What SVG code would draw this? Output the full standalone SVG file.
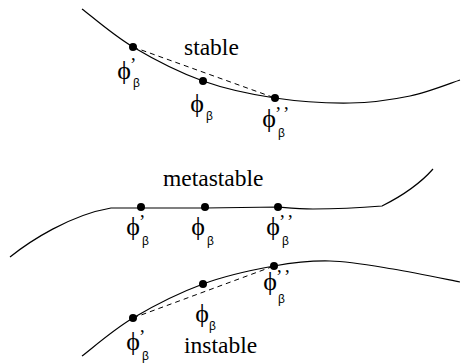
<svg xmlns="http://www.w3.org/2000/svg" width="463" height="364" viewBox="0 0 463 364">
<style>
.curve{fill:none;stroke:#000;stroke-width:1.2}
.dash{fill:none;stroke:#000;stroke-width:1;stroke-dasharray:5,4}
.dot{fill:#000}
.lbl{font-family:"Liberation Serif","Times New Roman",serif;font-size:23.5px;fill:#000}
.phi{font-family:"Liberation Serif","DejaVu Serif",serif;font-size:26px;fill:#000;text-anchor:middle}
.pr{font-family:"Liberation Serif",serif;font-size:19px;fill:#000;letter-spacing:3px}
.sub{font-family:"Liberation Sans","DejaVu Sans",sans-serif;font-size:12px;fill:#000}
</style>
<rect width="463" height="364" fill="#fff"/>
<g id="curves">
<path id="curve-stable" class="curve" d="M82,9 C90.5,15.3 112.8,35 133,47 C153.2,59 179.3,72.5 203,81 C226.7,89.5 250.5,94.3 275,98 C299.5,101.7 327.5,103.3 350,103 C372.5,102.7 391.7,99.8 410,96 C428.3,92.2 451.7,82.7 460,80"/>
<path id="curve-metastable" class="curve" d="M10,257 C30,241 70,215 111,208 L142,208 L205,208 L278,207 C290,208 300,209 313,209 C340,209 370,207 382,206 C398,198 418,186 433,169"/>
<path id="curve-instable" class="curve" d="M82,356 C90.5,349.7 112.8,330 133,318 C153.2,306 179.5,292.7 203,284 C226.5,275.3 252.8,269.8 274,266 C295.2,262.2 310.2,260.5 330,261 C349.8,261.5 371.3,265.5 393,269 C414.7,272.5 448.8,279.8 460,282"/>
</g>
<g id="connectors">
<line class="dash" x1="133" y1="47" x2="275" y2="98"/>
<line class="dash" x1="133" y1="318" x2="274" y2="266"/>
</g>
<g id="title-stable"><text class="lbl" x="184" y="55">stable</text></g>
<g id="title-metastable"><text class="lbl" x="163" y="186">metastable</text></g>
<g id="title-instable"><text class="lbl" x="184" y="353">instable</text></g>

<g id="s-phi1"><circle class="dot" cx="133" cy="47" r="4"/>
<text class="phi" x="124" y="79">ϕ</text><text class="pr" x="130" y="71">’</text><text class="sub" x="133" y="87">β</text></g>
<g id="s-phi"><circle class="dot" cx="203" cy="81" r="4"/>
<text class="phi" x="197" y="112">ϕ</text><text class="sub" x="206" y="120">β</text></g>
<g id="s-phi2"><circle class="dot" cx="275" cy="98" r="4"/>
<text class="phi" x="269" y="127">ϕ</text><text class="pr" x="275" y="120">’’</text><text class="sub" x="278" y="137">β</text></g>

<g id="m-phi1"><circle class="dot" cx="141" cy="207" r="4"/>
<text class="phi" x="133" y="235">ϕ</text><text class="pr" x="139" y="228">’</text><text class="sub" x="142" y="245">β</text></g>
<g id="m-phi"><circle class="dot" cx="205" cy="207" r="4"/>
<text class="phi" x="198" y="235">ϕ</text><text class="sub" x="207" y="245">β</text></g>
<g id="m-phi2"><circle class="dot" cx="278" cy="207" r="4"/>
<text class="phi" x="273" y="235">ϕ</text><text class="pr" x="279" y="228">’’</text><text class="sub" x="282" y="245">β</text></g>

<g id="i-phi1"><circle class="dot" cx="133" cy="318" r="4"/>
<text class="phi" x="133" y="350">ϕ</text><text class="pr" x="139" y="343">’</text><text class="sub" x="142" y="360">β</text></g>
<g id="i-phi"><circle class="dot" cx="203" cy="284" r="4"/>
<text class="phi" x="202" y="322">ϕ</text><text class="sub" x="209" y="330">β</text></g>
<g id="i-phi2"><circle class="dot" cx="274" cy="266" r="4"/>
<text class="phi" x="270" y="290">ϕ</text><text class="pr" x="276" y="283">’’</text><text class="sub" x="278" y="303">β</text></g>
</svg>
